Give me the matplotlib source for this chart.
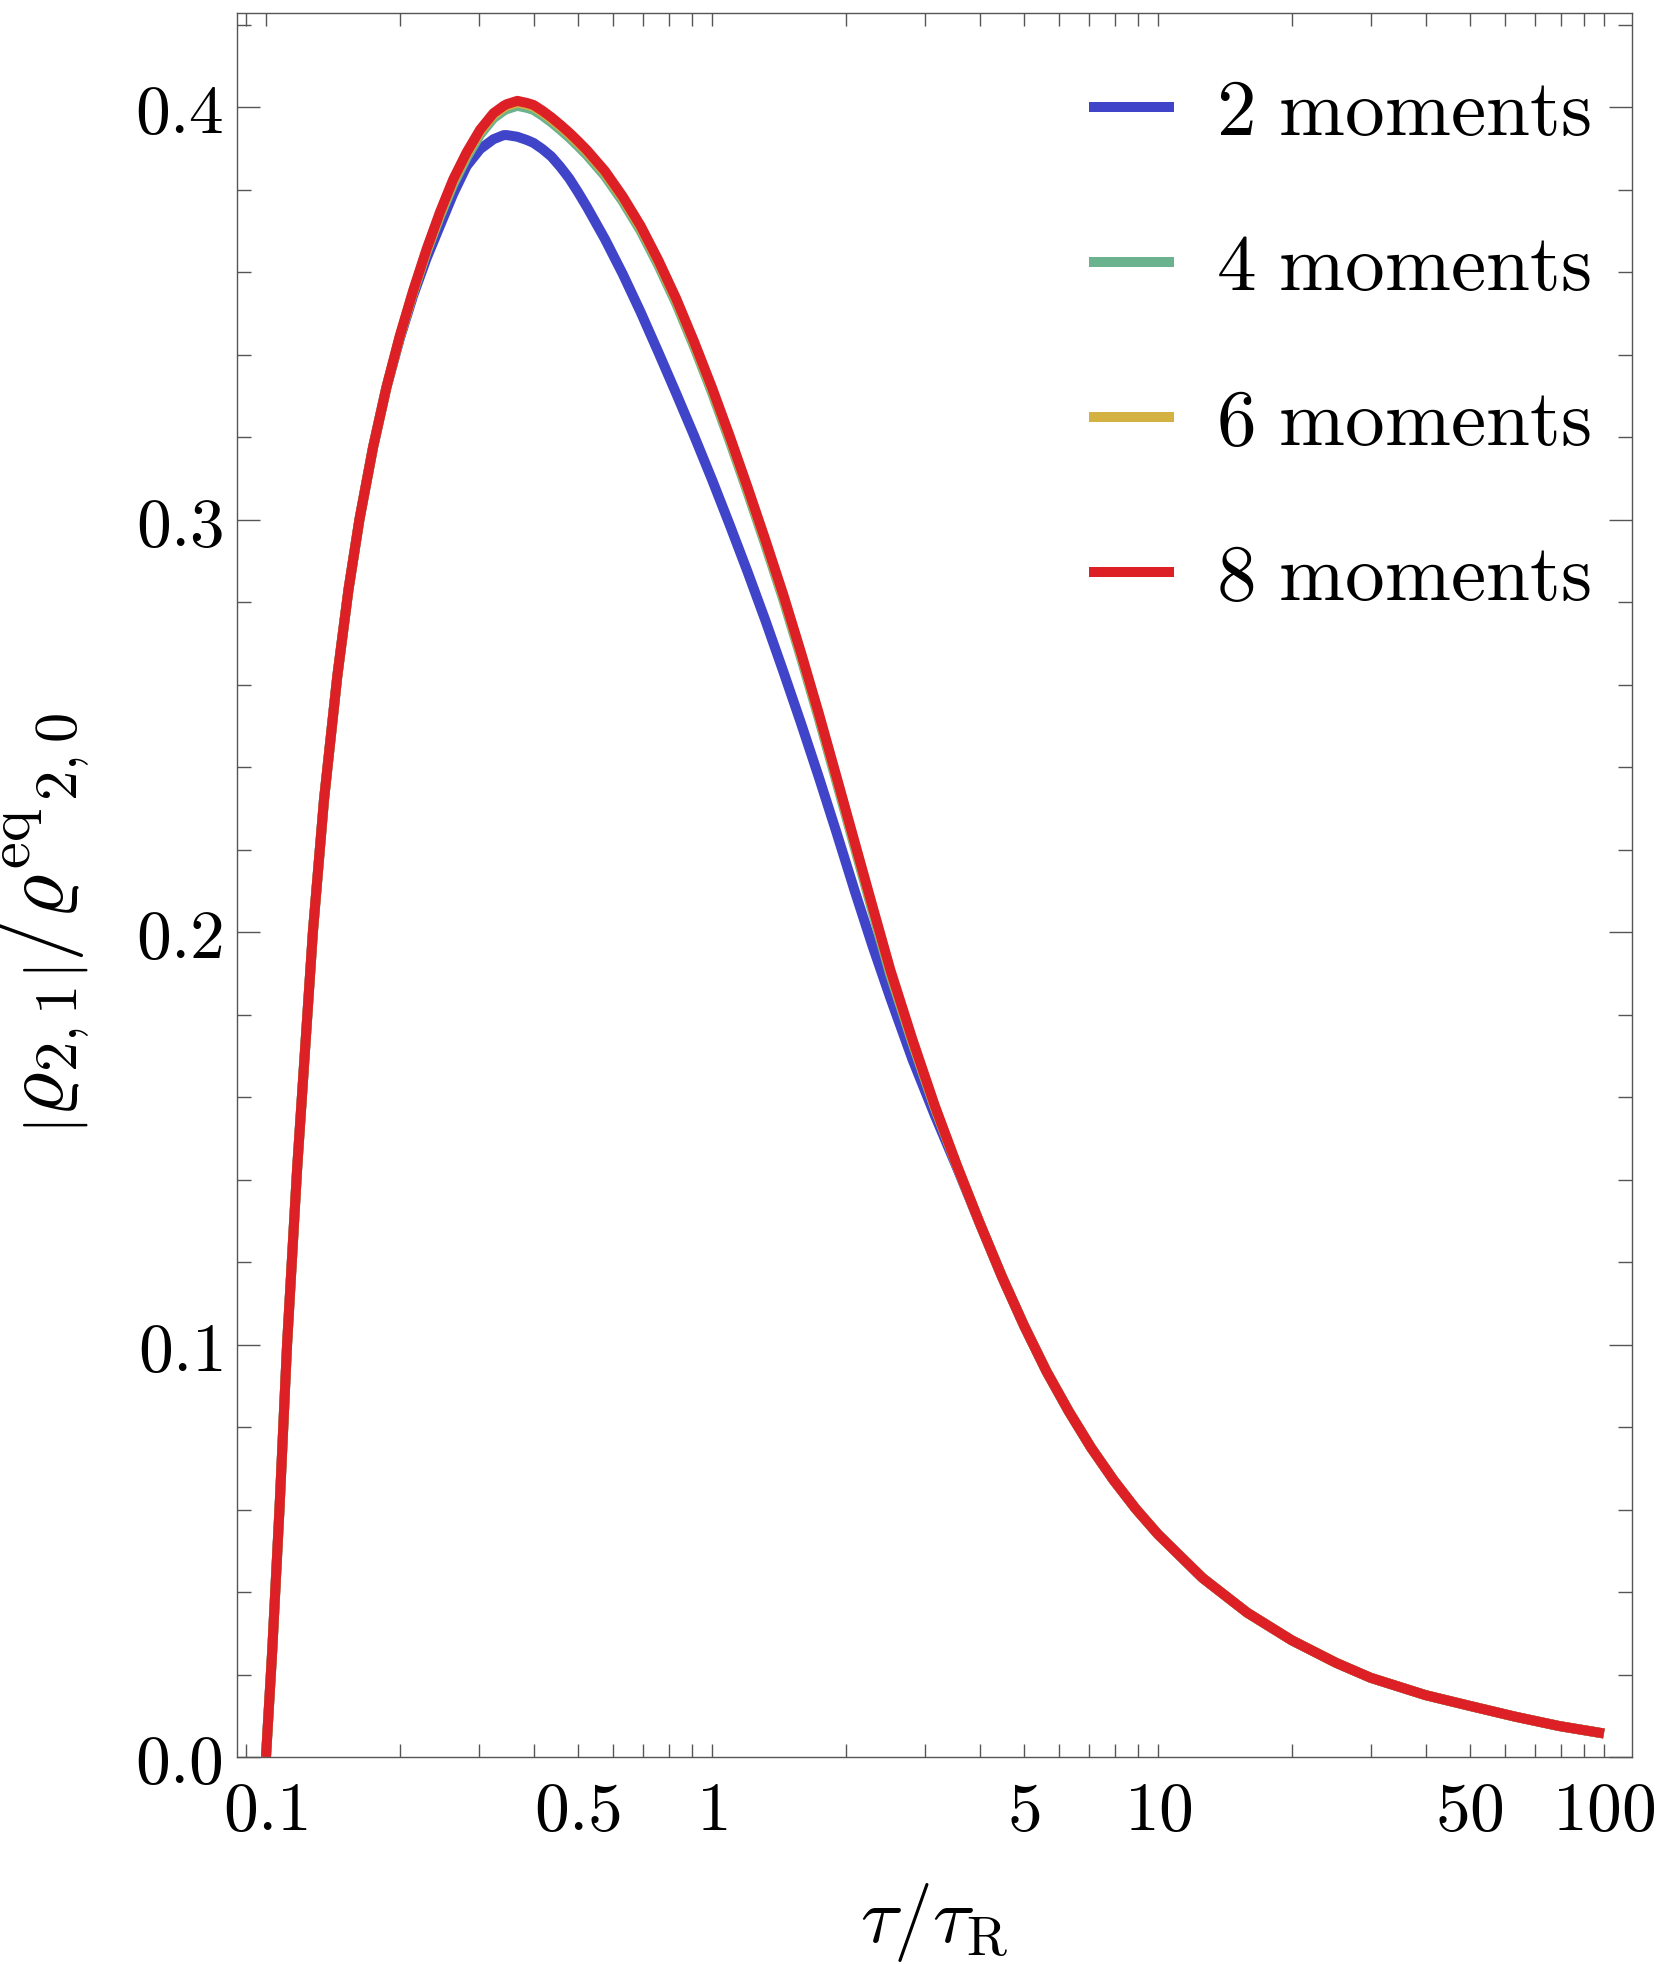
import matplotlib
matplotlib.use("Agg")
import matplotlib.pyplot as plt
from matplotlib.ticker import FixedLocator, FixedFormatter, NullFormatter

# ---------------- data ----------------
tau = [0.1000, 0.1033, 0.1072, 0.1115, 0.1175, 0.1274, 0.1349, 0.1445, 0.1531, 0.1620,
       0.1738, 0.1862, 0.1995, 0.2138, 0.2291, 0.2455, 0.2630, 0.2818, 0.3020, 0.3236,
       0.3412, 0.3467, 0.3661, 0.3846, 0.3981, 0.4169, 0.4365, 0.4571, 0.4786, 0.5012,
       0.5248, 0.5754, 0.6310, 0.6918, 0.7586, 0.8318, 0.9120, 1.000, 1.096, 1.202,
       1.318, 1.445, 1.585, 1.738, 1.905, 2.089, 2.291, 2.512, 2.818, 3.162,
       3.548, 3.981, 4.467, 5.012, 5.623, 6.310, 7.079, 7.943, 8.913, 10.00,
       12.59, 15.85, 19.95, 25.12, 30.00, 39.81, 50.00, 63.10, 79.43, 100.0]

rho_2mom = [0.000, 0.026, 0.060, 0.100, 0.143, 0.200, 0.232, 0.262, 0.283, 0.300,
            0.3175, 0.332, 0.3438, 0.3543, 0.3633, 0.3712, 0.3790, 0.3857, 0.3898, 0.3922,
            0.3932, 0.3932, 0.3928, 0.3920, 0.3913, 0.3898, 0.3880, 0.3855, 0.3827, 0.3793,
            0.3757, 0.3680, 0.3595, 0.3503, 0.3405, 0.3305, 0.3203, 0.3097, 0.2987, 0.2873,
            0.2755, 0.2632, 0.2505, 0.2374, 0.2239, 0.2100, 0.1966, 0.1840, 0.1690, 0.1555,
            0.1427, 0.1295, 0.1165, 0.1045, 0.0935, 0.0838, 0.0750, 0.0672, 0.0602, 0.0540,
            0.0434, 0.0350, 0.0283, 0.0228, 0.0192, 0.0150, 0.0124, 0.0098, 0.0075, 0.0057]

rho_4mom = [0.000, 0.026, 0.060, 0.100, 0.143, 0.200, 0.232, 0.262, 0.283, 0.300,
            0.3175, 0.332, 0.3442, 0.3550, 0.3648, 0.3735, 0.3813, 0.3878, 0.3933, 0.3973,
            0.3991, 0.3995, 0.4003, 0.3998, 0.3993, 0.3979, 0.3963, 0.3945, 0.3926, 0.3905,
            0.3883, 0.3833, 0.3771, 0.3700, 0.3616, 0.3523, 0.3419, 0.3308, 0.3190, 0.3066,
            0.2938, 0.2806, 0.2664, 0.2516, 0.2362, 0.2206, 0.2050, 0.1896, 0.1730, 0.1573,
            0.1430, 0.1295, 0.1165, 0.1045, 0.0935, 0.0838, 0.0750, 0.0672, 0.0602, 0.0540,
            0.0434, 0.0350, 0.0283, 0.0228, 0.0192, 0.0150, 0.0124, 0.0098, 0.0075, 0.0057]

rho_6mom = [0.000, 0.026, 0.060, 0.100, 0.143, 0.200, 0.232, 0.262, 0.283, 0.300,
            0.3175, 0.332, 0.3444, 0.3553, 0.3652, 0.3741, 0.3821, 0.3886, 0.3941, 0.3981,
            0.3999, 0.4003, 0.4011, 0.4006, 0.4001, 0.3987, 0.3971, 0.3953, 0.3934, 0.3913,
            0.3891, 0.3841, 0.3779, 0.3708, 0.3624, 0.3531, 0.3427, 0.3316, 0.3198, 0.3074,
            0.2946, 0.2814, 0.2672, 0.2524, 0.2370, 0.2214, 0.2058, 0.1904, 0.1734, 0.1575,
            0.1432, 0.1295, 0.1165, 0.1045, 0.0935, 0.0838, 0.0750, 0.0672, 0.0602, 0.0540,
            0.0434, 0.0350, 0.0283, 0.0228, 0.0192, 0.0150, 0.0124, 0.0098, 0.0075, 0.0057]

rho_8mom = [0.000, 0.026, 0.060, 0.100, 0.143, 0.200, 0.232, 0.262, 0.283, 0.300,
            0.3175, 0.332, 0.3445, 0.3555, 0.3655, 0.3745, 0.3825, 0.3890, 0.3945, 0.3985,
            0.4003, 0.4007, 0.4015, 0.4010, 0.4005, 0.3991, 0.3975, 0.3957, 0.3938, 0.3917,
            0.3895, 0.3845, 0.3783, 0.3712, 0.3628, 0.3535, 0.3431, 0.3320, 0.3202, 0.3078,
            0.2950, 0.2818, 0.2676, 0.2528, 0.2374, 0.2218, 0.2062, 0.1908, 0.1738, 0.1578,
            0.1432, 0.1295, 0.1165, 0.1045, 0.0935, 0.0838, 0.0750, 0.0672, 0.0602, 0.0540,
            0.0434, 0.0350, 0.0283, 0.0228, 0.0192, 0.0150, 0.0124, 0.0098, 0.0075, 0.0057]

series = [rho_2mom, rho_4mom, rho_6mom, rho_8mom]
series_labels = ["2", "4", "6", "8"]
series_colors = ["#4044C8", "#6BB28E", "#D4B242", "#DD2025"]

x_major = [0.1, 0.5, 1, 5, 10, 50, 100]
x_major_labels = ["0.1", "0.5", "1", "5", "10", "50", "100"]
x_minor = [0.09, 0.2, 0.3, 0.4, 0.6, 0.7, 0.8, 0.9, 2, 3, 4, 6, 7, 8, 9,
           20, 30, 40, 60, 70, 80, 90]
y_major = [0.0, 0.1, 0.2, 0.3, 0.4]
y_major_labels = ["0.0", "0.1", "0.2", "0.3", "0.4"]
y_minor = [0.02, 0.04, 0.06, 0.08, 0.12, 0.14, 0.16, 0.18, 0.22, 0.24, 0.26,
           0.28, 0.32, 0.34, 0.36, 0.38, 0.42]

# ---------------- figure ----------------
plt.rcParams["mathtext.fontset"] = "cm"
plt.rcParams["font.family"] = ["DejaVu Serif"]

W, H = 1661, 1964
fig = plt.figure(figsize=(W / 100, H / 100), dpi=100)
L, R, T, B = 237, 1632, 13, 1757
ax = fig.add_axes([L / W, (H - B) / H, (R - L) / W, (B - T) / H])

for vals, lab, col in zip(series, series_labels, series_colors):
    ax.plot(tau, vals, color=col, lw=7.2, solid_capstyle="butt",
            solid_joinstyle="round", label=r"$%s\ \mathrm{moments}$" % lab)

ax.set_xscale("log")
ax.set_xlim(0.0861, 115.6)
ax.set_ylim(0.0, 0.4228)

spine_col = "#555555"
for s in ax.spines.values():
    s.set_color(spine_col)
    s.set_linewidth(1.0)

ax.xaxis.set_major_locator(FixedLocator(x_major))
ax.xaxis.set_major_formatter(FixedFormatter([r"$%s$" % t for t in x_major_labels]))
ax.xaxis.set_minor_locator(FixedLocator(x_minor))
ax.xaxis.set_minor_formatter(NullFormatter())
ax.yaxis.set_major_locator(FixedLocator(y_major))
ax.yaxis.set_major_formatter(FixedFormatter([r"$%s$" % t for t in y_major_labels]))
ax.yaxis.set_minor_locator(FixedLocator(y_minor))
ax.yaxis.set_minor_formatter(NullFormatter())

ax.tick_params(axis="both", which="both", direction="in", top=True, right=True,
               color=spine_col, width=1.0)
ax.tick_params(axis="x", which="both", length=9.6, pad=15, labelsize=50)
ax.tick_params(axis="y", which="major", length=16.8, pad=10, labelsize=50)
ax.tick_params(axis="y", which="minor", length=10.3)

ax.set_xlabel(r"$\tau/\tau_{\mathrm{R}}$", fontsize=56)
ax.xaxis.set_label_coords(0.5, -0.071)
ax.set_ylabel(r"$\left|\varrho_{2,1}\right|/{\varrho^{\mathrm{eq}}}_{2,0}$", fontsize=62)
ax.yaxis.set_label_coords(-0.104, 0.478)

leg = ax.legend(loc="upper right", bbox_to_anchor=(1591 / W, (H - 75) / H),
                bbox_transform=fig.transFigure, frameon=False, fontsize=57,
                handlelength=1.07, handletextpad=0.54, labelspacing=1.0,
                borderpad=0, borderaxespad=0)
for ln in leg.get_lines():
    ln.set_linewidth(7.2)

fig.savefig("out.png", dpi=100)
